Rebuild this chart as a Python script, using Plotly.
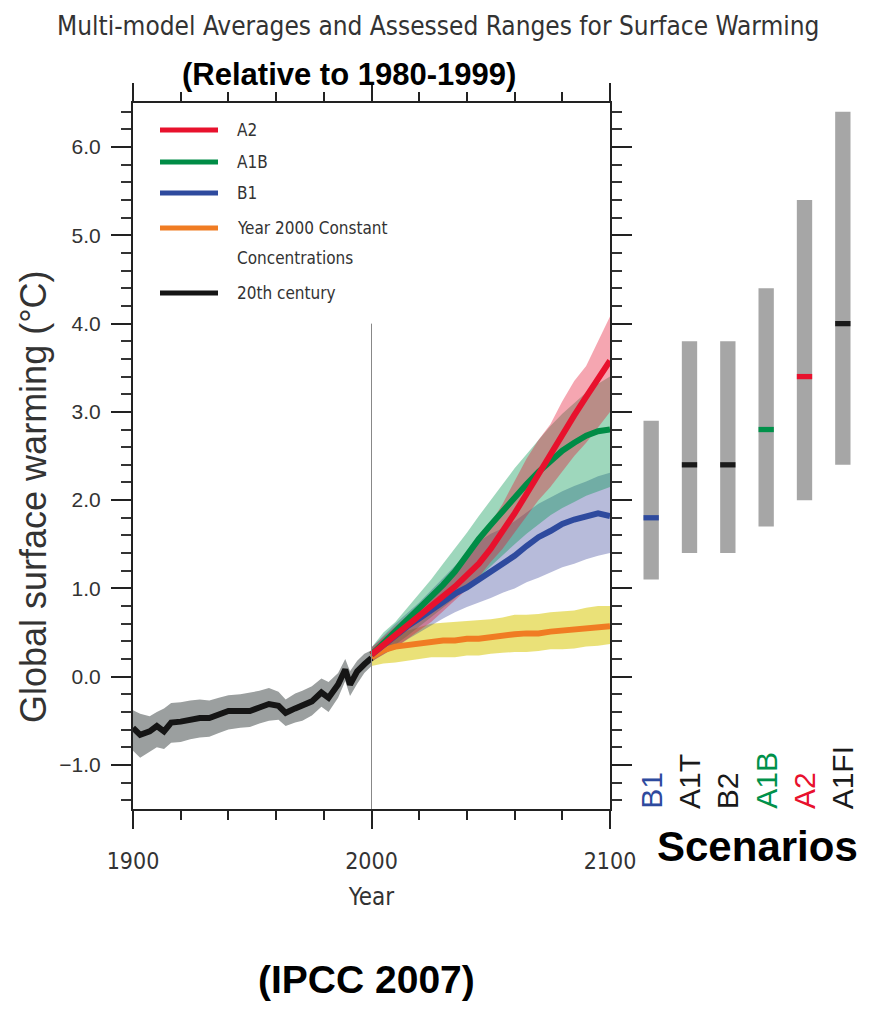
import plotly.graph_objects as go

# ---- 20th century simulations (multi-model mean and range) ----
hist_years = [1900, 1903, 1907, 1910, 1913, 1916, 1920, 1924, 1928, 1932, 1936, 1940, 1945, 1949,
              1953, 1957, 1961, 1964, 1968, 1971, 1975, 1979, 1982, 1986, 1989, 1991, 1994, 1997, 2000]
hist_mean = [-0.58, -0.66, -0.62, -0.56, -0.62, -0.52, -0.51, -0.49, -0.47, -0.47, -0.43, -0.39, -0.39, -0.39,
             -0.35, -0.31, -0.33, -0.41, -0.36, -0.33, -0.28, -0.18, -0.24, -0.09, 0.08, -0.09, 0.06, 0.14, 0.21]
hist_upper = [-0.38, -0.42, -0.45, -0.40, -0.36, -0.30, -0.29, -0.27, -0.26, -0.27, -0.24, -0.21, -0.20, -0.18,
              -0.16, -0.13, -0.17, -0.26, -0.19, -0.16, -0.11, -0.02, -0.06, 0.04, 0.20, 0.06, 0.18, 0.26, 0.30]
hist_lower = [-0.84, -0.92, -0.85, -0.80, -0.82, -0.75, -0.74, -0.71, -0.69, -0.68, -0.64, -0.60, -0.58, -0.57,
              -0.53, -0.50, -0.49, -0.56, -0.52, -0.50, -0.44, -0.34, -0.40, -0.24, -0.05, -0.22, -0.08, 0.04, 0.12]

# ---- 21st century projections ----
proj_years = [2000, 2005, 2010, 2015, 2020, 2025, 2030, 2035, 2040, 2045, 2050,
              2055, 2060, 2065, 2070, 2075, 2080, 2085, 2090, 2095, 2100]

a2_mean = [0.25, 0.36, 0.46, 0.57, 0.67, 0.78, 0.90, 1.02, 1.15, 1.28, 1.45,
           1.64, 1.85, 2.07, 2.30, 2.52, 2.74, 2.96, 3.17, 3.38, 3.58]
a2_upper = [0.33, 0.45, 0.56, 0.68, 0.80, 0.93, 1.07, 1.22, 1.38, 1.55, 1.74,
            1.96, 2.22, 2.47, 2.68, 2.86, 3.12, 3.35, 3.52, 3.80, 4.08]
a2_lower = [0.17, 0.25, 0.33, 0.42, 0.52, 0.62, 0.74, 0.86, 0.99, 1.13, 1.30,
            1.45, 1.63, 1.82, 2.00, 2.15, 2.33, 2.50, 2.65, 2.83, 3.00]

a1b_mean = [0.25, 0.38, 0.50, 0.63, 0.76, 0.90, 1.04, 1.19, 1.38, 1.56, 1.72,
            1.88, 2.03, 2.18, 2.32, 2.45, 2.56, 2.65, 2.73, 2.78, 2.80]
a1b_upper = [0.33, 0.50, 0.62, 0.78, 0.95, 1.10, 1.28, 1.45, 1.63, 1.82, 2.00,
             2.18, 2.36, 2.52, 2.68, 2.84, 2.98, 3.10, 3.22, 3.32, 3.40]
a1b_lower = [0.17, 0.27, 0.36, 0.46, 0.56, 0.67, 0.78, 0.89, 1.00, 1.12, 1.25,
             1.38, 1.50, 1.62, 1.73, 1.83, 1.91, 1.98, 2.05, 2.10, 2.15]

b1_mean = [0.25, 0.36, 0.46, 0.57, 0.66, 0.76, 0.85, 0.94, 1.01, 1.10, 1.19,
           1.27, 1.37, 1.48, 1.58, 1.65, 1.73, 1.78, 1.82, 1.85, 1.82]
b1_upper = [0.33, 0.47, 0.60, 0.72, 0.84, 0.98, 1.12, 1.26, 1.40, 1.53, 1.62,
            1.68, 1.76, 1.86, 1.96, 2.03, 2.10, 2.16, 2.21, 2.27, 2.31]
b1_lower = [0.17, 0.25, 0.33, 0.42, 0.50, 0.58, 0.66, 0.73, 0.79, 0.84, 0.89,
            0.95, 1.00, 1.07, 1.12, 1.18, 1.24, 1.28, 1.33, 1.37, 1.40]

commit_mean = [0.22, 0.30, 0.34, 0.36, 0.38, 0.40, 0.41, 0.41, 0.43, 0.43, 0.45,
               0.47, 0.48, 0.49, 0.49, 0.51, 0.52, 0.53, 0.55, 0.56, 0.57]
commit_upper = [0.30, 0.42, 0.47, 0.52, 0.56, 0.60, 0.61, 0.62, 0.63, 0.64, 0.65,
                0.67, 0.70, 0.70, 0.71, 0.73, 0.74, 0.75, 0.78, 0.80, 0.80]
commit_lower = [0.12, 0.15, 0.16, 0.18, 0.20, 0.22, 0.22, 0.22, 0.24, 0.24, 0.26,
                0.27, 0.28, 0.28, 0.29, 0.31, 0.31, 0.32, 0.34, 0.35, 0.37]

# ---- assessed likely ranges for 2090-2099 ----
scenarios = ["B1", "A1T", "B2", "A1B", "A2", "A1FI"]
best_est = [1.8, 2.4, 2.4, 2.8, 3.4, 4.0]
likely_low = [1.1, 1.4, 1.4, 1.7, 2.0, 2.4]
likely_high = [2.9, 3.8, 3.8, 4.4, 5.4, 6.4]
scenario_colors = ["#2e4a9e", "#1a1a1a", "#1a1a1a", "#00914a", "#e8112d", "#1a1a1a"]

RED, GREEN, BLUE, ORANGE, BLACK = "#e8112d", "#008c46", "#2e4a9e", "#f07c23", "#151515"
NARROW = "'DejaVu Sans Condensed', 'Liberation Sans Narrow', sans-serif"
ARIAL = "'Liberation Sans', Arial, sans-serif"

# page body adds an 8px offset, so the figure is sized to fit inside the window
OFF = 8
W, H = 877 - 2 * OFF, 1011 - 2 * OFF
ML, MR, MT, MB = 125, 4, 95, 194


# screen pixel -> paper fraction (plot area spans x 133..865, y 103..809 on screen)
def px_x(p):
    return (p - 133) / 732


def px_y(p):
    return (809 - p) / 706


def band(x, lo, hi, color):
    return go.Scatter(x=x + x[::-1], y=hi + lo[::-1], fill="toself", fillcolor=color,
                      line=dict(width=0), mode="lines", hoverinfo="skip", showlegend=False)


fig = go.Figure()

fig.add_trace(band(hist_years, hist_lower, hist_upper, "#9b9f9f"))
fig.add_trace(band(proj_years, commit_lower, commit_upper, "rgba(220,205,30,0.6)"))
fig.add_trace(band(proj_years, b1_lower, b1_upper, "rgba(50,60,150,0.35)"))
fig.add_trace(band(proj_years, a1b_lower, a1b_upper, "rgba(0,150,80,0.38)"))
fig.add_trace(band(proj_years, a2_lower, a2_upper, "rgba(230,20,50,0.38)"))

for ys, c in [(commit_mean, ORANGE), (b1_mean, BLUE), (a1b_mean, GREEN), (a2_mean, RED)]:
    fig.add_trace(go.Scatter(x=proj_years, y=ys, mode="lines", line=dict(color=c, width=6),
                             showlegend=False))
fig.add_trace(go.Scatter(x=hist_years, y=hist_mean, mode="lines", line=dict(color=BLACK, width=6),
                         showlegend=False))

# scenario bars
fig.add_trace(go.Bar(x=scenarios, y=[h - l for h, l in zip(likely_high, likely_low)], base=likely_low,
                     marker=dict(color="#a6a6a6", line=dict(width=0)), width=0.4,
                     xaxis="x2", yaxis="y", showlegend=False))
fig.add_trace(go.Bar(x=scenarios, y=[0.06] * len(scenarios), base=[b - 0.03 for b in best_est],
                     marker=dict(color=scenario_colors, line=dict(width=0)), width=0.4,
                     xaxis="x2", yaxis="y", showlegend=False))

# vertical line at 2000
fig.add_shape(type="line", x0=2000, x1=2000, y0=-1.5, y1=4.0, xref="x", yref="y",
              line=dict(color="#888888", width=1))

# manual legend
legend_items = [("A2", RED, 130), ("A1B", GREEN, 162), ("B1", BLUE, 193),
                ("Year 2000 Constant", ORANGE, 228), ("20th century", BLACK, 293)]
for label, c, yy in legend_items:
    fig.add_shape(type="line", xref="paper", yref="paper", x0=px_x(160), x1=px_x(218),
                  y0=px_y(yy), y1=px_y(yy), line=dict(color=c, width=5))
    fig.add_annotation(text=label, xref="paper", yref="paper", x=px_x(235), y=px_y(yy),
                       xanchor="left", yanchor="middle", showarrow=False,
                       font=dict(family=NARROW, size=17, color="#333333"))
fig.add_annotation(text="Concentrations", xref="paper", yref="paper", x=px_x(235), y=px_y(258),
                   xanchor="left", yanchor="middle", showarrow=False,
                   font=dict(family=NARROW, size=17, color="#333333"))

# scenario labels
for s, c in zip(scenarios, scenario_colors):
    fig.add_annotation(text=s, x=s, y=-1.5, xref="x2", yref="y", textangle=-90,
                       xanchor="center", yanchor="bottom", yshift=-2, showarrow=False,
                       font=dict(family=ARIAL, size=30, color=c))

fig.add_annotation(text="<b>Scenarios</b>", xref="paper", yref="paper", x=px_x(757), y=px_y(846),
                   xanchor="center", yanchor="middle", showarrow=False,
                   font=dict(family=ARIAL, size=42, color="black"))
fig.add_annotation(text="<b>(Relative to 1980-1999)</b>", xref="paper", yref="paper",
                   x=px_x(349), y=px_y(74), xanchor="center", yanchor="middle", showarrow=False,
                   font=dict(family=ARIAL, size=31, color="black"))
fig.add_annotation(text="<b>(IPCC 2007)</b>", xref="paper", yref="paper",
                   x=px_x(366), y=px_y(979), xanchor="center", yanchor="middle", showarrow=False,
                   font=dict(family=ARIAL, size=39, color="black"))
fig.add_annotation(text="Global surface warming (°C)", xref="paper", yref="paper",
                   x=px_x(33), y=px_y(497), xanchor="center", yanchor="middle", textangle=-90,
                   showarrow=False, font=dict(family=ARIAL, size=36, color="#333333"))
fig.add_annotation(text="Multi-model Averages and Assessed Ranges for Surface Warming",
                   xref="paper", yref="paper", x=px_x(438), y=px_y(26),
                   xanchor="center", yanchor="middle", showarrow=False,
                   font=dict(family=NARROW, size=26, color="#333333"))

fig.update_layout(
    width=W, height=H,
    margin=dict(l=ML, r=MR, t=MT, b=MB, autoexpand=False),
    plot_bgcolor="white", paper_bgcolor="white",
    barmode="overlay",
    showlegend=False,
    xaxis=dict(domain=[0, px_x(610)], range=[1900, 2100], tickvals=[1900, 2000, 2100],
               ticks="outside", ticklen=18, tickwidth=2, tickcolor="#222222",
               minor=dict(dtick=20, tick0=1900, ticks="outside", ticklen=9, tickwidth=1.5,
                          tickcolor="#222222"),
               showline=True, linecolor="#222222", linewidth=2, mirror="ticks",
               showgrid=False, zeroline=False, ticklabelstandoff=12,
               tickfont=dict(family=NARROW, size=23, color="#333333"),
               title=dict(text="Year", standoff=16, font=dict(family=NARROW, size=24, color="#333333"))),
    yaxis=dict(range=[-1.5, 6.5], tick0=0, dtick=1, tickformat=".1f",
               ticks="outside", ticklen=20, tickwidth=2, tickcolor="#222222",
               minor=dict(dtick=0.2, ticks="outside", ticklen=10, tickwidth=1.5, tickcolor="#333333"),
               showline=True, linecolor="#222222", linewidth=2, mirror="ticks",
               showgrid=False, zeroline=False, ticklabelstandoff=6,
               tickfont=dict(family=ARIAL, size=21, color="#333333")),
    xaxis2=dict(domain=[px_x(632), px_x(862)], anchor="y", type="category",
                range=[-0.5, 5.5], showline=False, ticks="", showticklabels=False,
                showgrid=False, zeroline=False),
)

fig.write_html("out.html")
